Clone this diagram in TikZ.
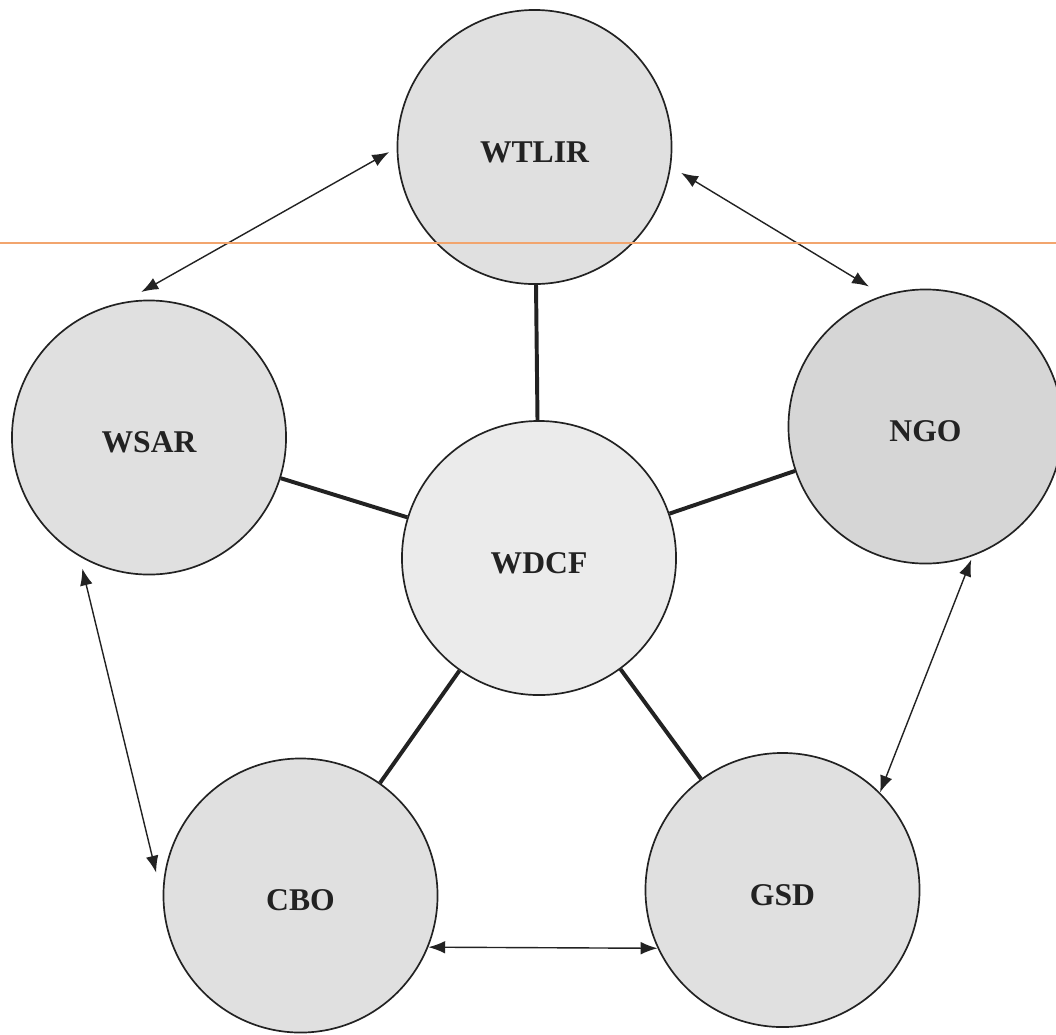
\documentclass[tikz,border=0pt]{standalone}
\usepackage{fontspec}
\setmainfont{Liberation Serif}
\usetikzlibrary{arrows.meta,calc}
\definecolor{ink}{HTML}{222222}
\definecolor{scanorange}{HTML}{F2A56E}
\tikzset{
  org/.style={circle, draw=ink, line width=1.2pt, minimum size=6.85cm, inner sep=0pt,
    fill=gray!24, font=\fontsize{22.5}{24}\selectfont\bfseries, text=ink,
    text height=22pt, text depth=0pt},
  spoke/.style={draw=ink, line width=2.8pt},
  link/.style={draw=ink, line width=1pt, {Latex[length=12pt,width=9pt]}-{Latex[length=12pt,width=9pt]}}
}
\begin{document}
\begin{tikzpicture}[x=0.025cm, y=-0.025cm]
\useasboundingbox (0,0) rectangle (1056,1034);
\fill[white] (0,0) rectangle (1056,1034);
\node[org] (wtlir) at (534.5,147) {WTLIR};
\node[org] (wsar) at (149,437.5) {WSAR};
\node[org, fill=gray!32] (ngo) at (925.5,426.5) {NGO};
\node[org, fill=gray!16] (wdcf) at (539,558) {WDCF};
\node[org] (cbo) at (300.5,895.5) {CBO};
\node[org] (gsd) at (782.5,890) {GSD};
% spokes
\draw[spoke] (wdcf) -- (wtlir);
\draw[spoke] (wdcf) -- (wsar);
\draw[spoke] (wdcf) -- (ngo);
\draw[spoke] (wdcf) -- (cbo);
\draw[spoke] (wdcf) -- (gsd);
% double arrows
\draw[link] ($(wtlir.center)!1.055!(wtlir.182.4)$) -- ($(wsar.center)!1.057!(wsar.93.6)$);
\draw[link] ($(wtlir.center)!1.08!(wtlir.-10.5)$) -- ($(ngo.center)!1.095!(ngo.112.7)$);
\draw[link] ($(wsar.center)!1.066!(wsar.243.2)$) -- ($(cbo.center)!1.06!(cbo.171.9)$);
\draw[link] ($(ngo.center)!1.02!(ngo.-71.3)$) -- ($(gsd.center)!1.0!(gsd.45.7)$);
\draw[link] ($(cbo.center)!1.0!(cbo.-22.9)$) -- ($(gsd.center)!1.0!(gsd.205)$);
% scan line
\coordinate (scanL) at (0,243);
\coordinate (scanR) at (1056,243);
\draw[scanorange, line width=0.8pt] (scanL) -- (scanR);
\end{tikzpicture}
\end{document}
